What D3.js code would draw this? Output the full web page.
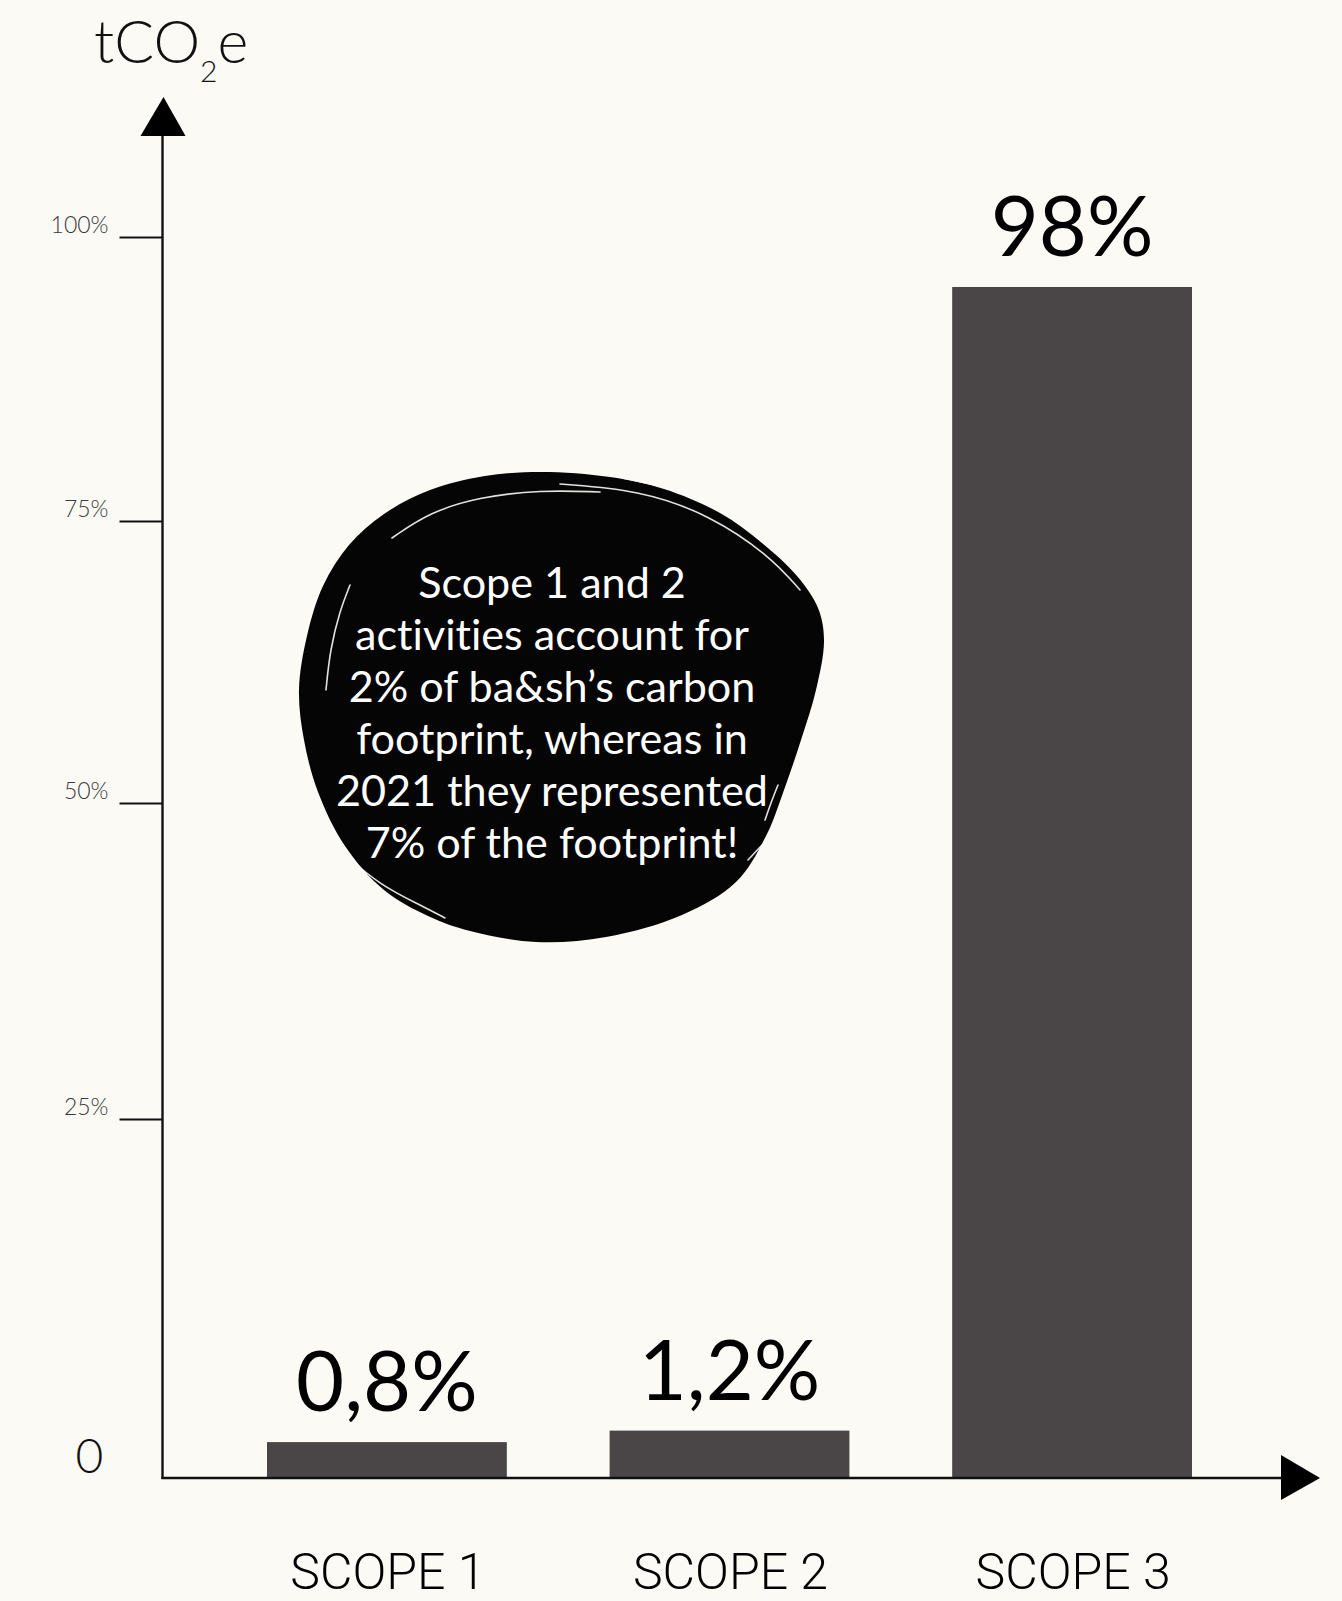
<!DOCTYPE html>
<html>
<head>
<meta charset="utf-8">
<script src="https://cdn.jsdelivr.net/npm/d3@7/dist/d3.min.js"></script>
<style>
  html, body { margin: 0; padding: 0; background: #fcfaf5; }
  svg { display: block; }
  text { font-variant-ligatures: none; font-feature-settings: "liga" 0, "clig" 0; }
</style>
</head>
<body>
<svg id="chart" width="1342" height="1601"></svg>
<script>
// ---------- data ----------
const categories = ["SCOPE 1", "SCOPE 2", "SCOPE 3"];
const shares = [0.8, 1.2, 98];            // values printed above the bars (%)
const barLevels = [2.5, 3.3, 95.6];       // bar heights as read against the axis (%)
const yTickValues = [25, 50, 75, 100];
const yTickLabels = ["25%", "50%", "75%", "100%"];
const zeroLabel = "0";
const yTitleParts = ["tCO", "2", "e"];
const calloutLines = [
  "Scope 1 and 2",
  "activities account for",
  "2% of ba&sh\u2019s carbon",
  "footprint, whereas in",
  "2021 they represented",
  "7% of the footprint!"
];

// ---------- layout ----------
const W = 1342, H = 1601;
const axisX = 162.5, baseY = 1478, topY = 237;
const yStops = [baseY, 1119, 803, 521, topY];   // the original axis is hand-spaced
const bg = "#fcfaf5", barColor = "#4a4547", ink = "#111";
const font = "Lato, 'Noto Sans', 'DejaVu Sans', sans-serif";

const svg = d3.select("#chart");
svg.append("rect").attr("width", W).attr("height", H).attr("fill", bg);

const y = d3.scaleLinear().domain([0, ...yTickValues]).range(yStops);
const x = d3.scaleBand().domain(categories).range([267, 1192]).paddingInner(0.3).paddingOuter(0);

// ---------- callout blob ----------
const blobPts = [
  [541,472],[610,477],[664,489],[720,513],[762,543],[797,576],[818,608],[824,640],
  [816,690],[801,740],[784,790],[766,836],[736,882],[682,915],[606,937],[536,942],
  [470,931],[428,916],[384,890],[345,846],[318,792],[304,740],[299,690],[307,636],
  [323,586],[349,545],[384,514],[430,490],[485,476]
];
const blobLine = d3.line().curve(d3.curveCatmullRomClosed.alpha(0.5));
const g = svg.append("g");
g.append("path").attr("d", blobLine(blobPts)).attr("fill", "#050505");

// brush scratches
const scratch = d3.line().curve(d3.curveBasis);
const scratches = [
  [[392,538],[430,512],[480,497],[540,490],[600,492]],
  [[560,484],[640,490],[710,515],[770,556],[800,590]],
  [[350,585],[340,610],[330,650],[326,690]],
  [[622,478],[690,492],[745,520]],
  [[345,855],[380,885],[420,905],[445,918]],
  [[765,820],[772,800],[778,785]],
  [[748,860],[762,845]]
];
g.selectAll("path.scr").data(scratches).join("path")
  .attr("class", "scr")
  .attr("d", d => scratch(d))
  .attr("fill", "none").attr("stroke", bg).attr("stroke-width", 1.6)
  .attr("stroke-linecap", "round").attr("opacity", 0.9);

// callout text
const ct = g.append("text").attr("font-family", font).attr("fill", "#fff")
  .attr("text-anchor", "middle").attr("font-size", 40);
const lines = ct.selectAll("tspan").data(calloutLines).join("tspan")
  .attr("x", 552).attr("y", (d, i) => 598 + i * 52).text(d => d);
let longest = 0;
lines.each(function () { longest = Math.max(longest, this.getComputedTextLength()); });
ct.attr("font-size", 40 * 432 / longest);

// ---------- bars ----------
svg.append("g").selectAll("rect").data(categories).join("rect")
  .attr("x", d => x(d))
  .attr("width", x.bandwidth())
  .attr("y", (d, i) => y(barLevels[i]))
  .attr("height", (d, i) => y(0) - y(barLevels[i]))
  .attr("fill", barColor);

// value labels
const fmt = v => (Number.isInteger(v) ? String(v) : v.toFixed(1).replace(".", ",")) + "%";
svg.append("g").selectAll("text").data(categories).join("text")
  .attr("x", d => x(d) + x.bandwidth() / 2)
  .attr("y", (d, i) => y(barLevels[i]) - 31)
  .attr("text-anchor", "middle")
  .attr("font-family", font).attr("font-size", 83).attr("fill", "#000")
  .text((d, i) => fmt(shares[i]));

// category labels
svg.append("g").selectAll("text").data(categories).join("text")
  .attr("x", d => x(d) + x.bandwidth() / 2 + 1)
  .attr("y", 1589)
  .attr("text-anchor", "middle")
  .attr("font-family", "Roboto, 'Liberation Sans', Arial, sans-serif")
  .attr("font-weight", 300)
  .attr("font-size", 50).attr("fill", "#000")
  .text(d => d);

// ---------- y axis ----------
const yAxis = d3.axisLeft(y).tickValues(yTickValues).tickSize(43).tickPadding(11)
  .tickFormat((d, i) => yTickLabels[i]);
const ya = svg.append("g").attr("transform", `translate(${axisX},0)`).call(yAxis);
ya.select(".domain").remove();
ya.selectAll(".tick line").attr("stroke", ink).attr("stroke-width", 2);
ya.selectAll(".tick text")
  .attr("dy", "-5").attr("font-family", font).attr("font-weight", 300)
  .attr("font-size", 23).attr("fill", "#3a3a3a");

// axis lines & arrows
svg.append("line").attr("x1", axisX).attr("x2", axisX).attr("y1", baseY + 1).attr("y2", 130)
  .attr("stroke", ink).attr("stroke-width", 2.4);
svg.append("path").attr("d", `M${axisX - 22},136 L${axisX + 1},97 L${axisX + 23},136 Z`).attr("fill", "#000");
svg.append("line").attr("x1", axisX - 1).attr("x2", 1290).attr("y1", baseY).attr("y2", baseY)
  .attr("stroke", ink).attr("stroke-width", 2.4);
svg.append("path").attr("d", `M1281,${baseY - 23} L1320,${baseY} L1281,${baseY + 22} Z`).attr("fill", "#000");

// zero label
svg.append("text").attr("x", 89.5).attr("y", 1473).attr("text-anchor", "middle")
  .attr("font-family", font).attr("font-weight", 300).attr("font-size", 48).attr("fill", "#111")
  .text(zeroLabel);

// y title tCO2e
const tt = svg.append("text").attr("x", 94).attr("y", 63)
  .attr("font-family", font).attr("font-weight", 300).attr("font-size", 59).attr("fill", "#111");
tt.append("tspan").text(yTitleParts[0]);
tt.append("tspan").attr("font-size", 30).attr("dy", 19).text(yTitleParts[1]);
tt.append("tspan").attr("dy", -19).text(yTitleParts[2]);
</script>
</body>
</html>
